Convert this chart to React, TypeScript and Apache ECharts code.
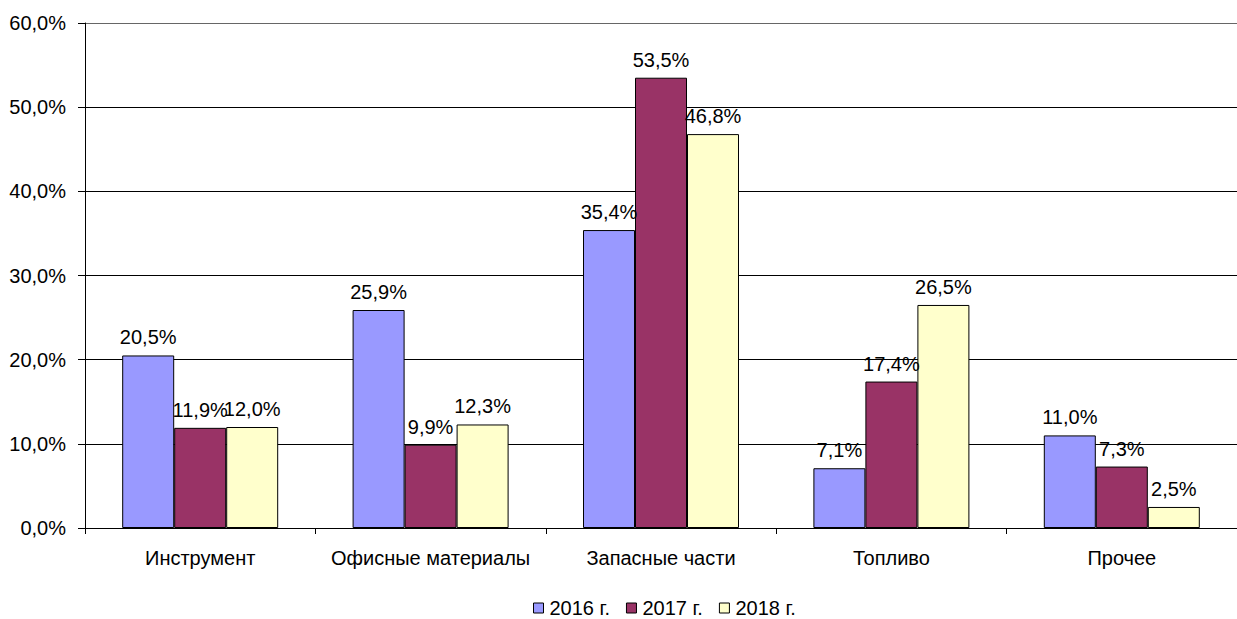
import React, { useEffect, useRef } from "react";
import * as echarts from "echarts";

const categories = ["Инструмент", "Офисные материалы", "Запасные части", "Топливо", "Прочее"];
const seriesNames = ["2016 г.", "2017 г.", "2018 г."];
const values2016 = [20.5, 25.9, 35.4, 7.1, 11.0];
const values2017 = [11.9, 9.9, 53.5, 17.4, 7.3];
const values2018 = [12.0, 12.3, 46.8, 26.5, 2.5];
const colors = ["#9999FF", "#993366", "#FFFFCC"];

const fmt = (v: number) => v.toFixed(1).replace(".", ",") + "%";

export default function App() {
  const ref = useRef<HTMLDivElement>(null);
  useEffect(() => {
    if (!ref.current) return;
    const chart = echarts.init(ref.current, undefined, { renderer: "svg" });
    const font = "'Liberation Sans', Arial, sans-serif";
    const fs = 20;
    const data = [values2016, values2017, values2018];
    chart.setOption({
      animation: false,
      textStyle: { fontFamily: font },
      grid: { left: 85, top: 23, width: 1160, height: 505, containLabel: false },
      legend: {
        left: 533,
        top: 598,
        itemWidth: 10,
        itemHeight: 10,
        itemGap: 16,
        icon: "rect",
        padding: 0,
        textStyle: { fontSize: fs, lineHeight: 20, color: "#000", fontFamily: font, padding: [0, 0, 0, 1] },
        data: seriesNames.map((n, i) => ({
          name: n,
          itemStyle: { color: colors[i], borderColor: "#000", borderWidth: 1 },
        })),
      },
      xAxis: {
        type: "category",
        data: categories,
        boundaryGap: true,
        axisLine: { show: true, lineStyle: { color: "#000", width: 1 } },
        axisTick: { show: true, length: 6, inside: false, lineStyle: { color: "#000" } },
        axisLabel: { fontSize: fs, color: "#000", margin: 20, interval: 0, fontFamily: font },
      },
      yAxis: {
        type: "value",
        min: 0,
        max: 60,
        interval: 10,
        axisLine: { show: true, lineStyle: { color: "#000", width: 1 } },
        axisTick: { show: true, length: 7, lineStyle: { color: "#000" } },
        axisLabel: { fontSize: fs, color: "#000", margin: 19, formatter: (v: number) => fmt(v), fontFamily: font },
        splitLine: {
          show: true,
          lineStyle: { color: ["#000", "#000", "#000", "#000", "#000", "#000", "#666"], width: 1 },
        },
      },
      series: seriesNames.map((n, i) => ({
        name: n,
        type: "bar",
        data: data[i],
        barWidth: 52,
        barGap: "0%",
        itemStyle: { color: colors[i], borderColor: "#000", borderWidth: 1 },
        label: {
          show: true,
          position: "top",
          distance: 8,
          fontSize: fs,
          color: "#000",
          fontFamily: font,
          formatter: (p: any) => fmt(p.value),
        },
      })),
    });
    return () => chart.dispose();
  }, []);
  return (
    <div
      ref={ref}
      style={{ position: "absolute", left: 0, top: 0, width: 1237, height: 619, background: "#fff" }}
    />
  );
}
